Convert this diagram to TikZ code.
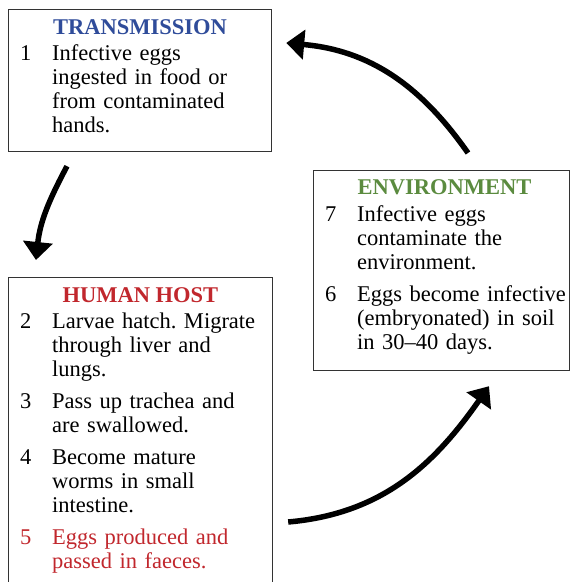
\documentclass[tikz,border=0pt]{standalone}
\usepackage{fontspec}
\setmainfont{Liberation Serif}
\usetikzlibrary{arrows.meta}
\definecolor{transblue}{HTML}{2F4C9A}
\definecolor{hostred}{HTML}{C1272D}
\definecolor{envgreen}{HTML}{5B8B3F}
\frenchspacing
\newcommand{\lifestage}[2]{\par\hangindent=32pt\hangafter=1\noindent\makebox[32pt][l]{\rule{0pt}{18pt}#1}#2\par}

\begin{document}
\begin{tikzpicture}[x=1pt,y=1pt,
  panel/.style={draw=black!80,line width=1.2pt,anchor=north west,inner sep=0pt},
  paneltitle/.style={anchor=base,font=\fontsize{22.5}{24}\selectfont\bfseries},
  paneltext/.style={anchor=north west,inner sep=0pt,text width=245pt,
    font=\fontsize{22.5}{24}\selectfont,execute at begin node={\setlength{\parskip}{8pt}}},
  cyclearrow/.style={line width=5.5pt,-{Triangle[length=18pt,width=29pt]}}]
\useasboundingbox (0,0) rectangle (570,582);
\clip (0,0) rectangle (570,582);

% boxes
\node[panel,minimum width=263pt,minimum height=142pt] (trans) at (8,573) {};
\node[panel,minimum width=263.5pt,minimum height=330pt] (host) at (8,305) {};
\node[panel,minimum width=256pt,minimum height=200pt] (env) at (313,412) {};

\node[paneltitle,text=transblue] (transtitle) at ([yshift=-26pt]trans.north) {TRANSMISSION};
\node[paneltext] (transtext) at ([xshift=12pt,yshift=-19pt]trans.north west) {%
  \lifestage{1}{Infective eggs\newline ingested in food or\newline from contaminated\newline hands.}};

\node[paneltitle,text=hostred] (hosttitle) at ([yshift=-26pt]host.north) {HUMAN HOST};
\node[paneltext] (hosttext) at ([xshift=12pt,yshift=-19pt]host.north west) {%
  \lifestage{2}{Larvae hatch. Migrate\newline through liver and\newline lungs.}
  \lifestage{3}{Pass up trachea and\newline are swallowed.}
  \lifestage{4}{Become mature\newline worms in small\newline intestine.}
  \lifestage{\color{hostred}5}{\color{hostred}Eggs produced and\newline passed in faeces.}};

\node[paneltitle,text=envgreen] (envtitle) at ([xshift=3pt,yshift=-25pt]env.north) {ENVIRONMENT};
\node[paneltext] (envtext) at ([xshift=12pt,yshift=-19pt]env.north west) {%
  \lifestage{7}{Infective eggs\newline contaminate the\newline environment.}
  \lifestage{6}{Eggs become infective\newline (embryonated) in soil\newline in 30--40 days.}};

% cycle
\coordinate (a1) at ([xshift=59pt,yshift=-14pt]trans.south west);
\coordinate (b1) at ([xshift=28pt,yshift=17pt]host.north west);
\coordinate (a2) at ([xshift=155pt,yshift=17pt]env.north west);
\coordinate (b2) at ([xshift=14pt,yshift=-34pt]trans.north east);
\coordinate (a3) at ([xshift=15.5pt,yshift=-245pt]host.north east);
\coordinate (b3) at ([xshift=176pt,yshift=-15pt]env.south west);
\draw[cyclearrow] (a1) to[out=-118,in=84] (b1);
\draw[cyclearrow] (a2) to[out=125,in=-5] (b2);
\draw[cyclearrow] (a3) to[out=5,in=235] (b3);
\end{tikzpicture}
\end{document}
